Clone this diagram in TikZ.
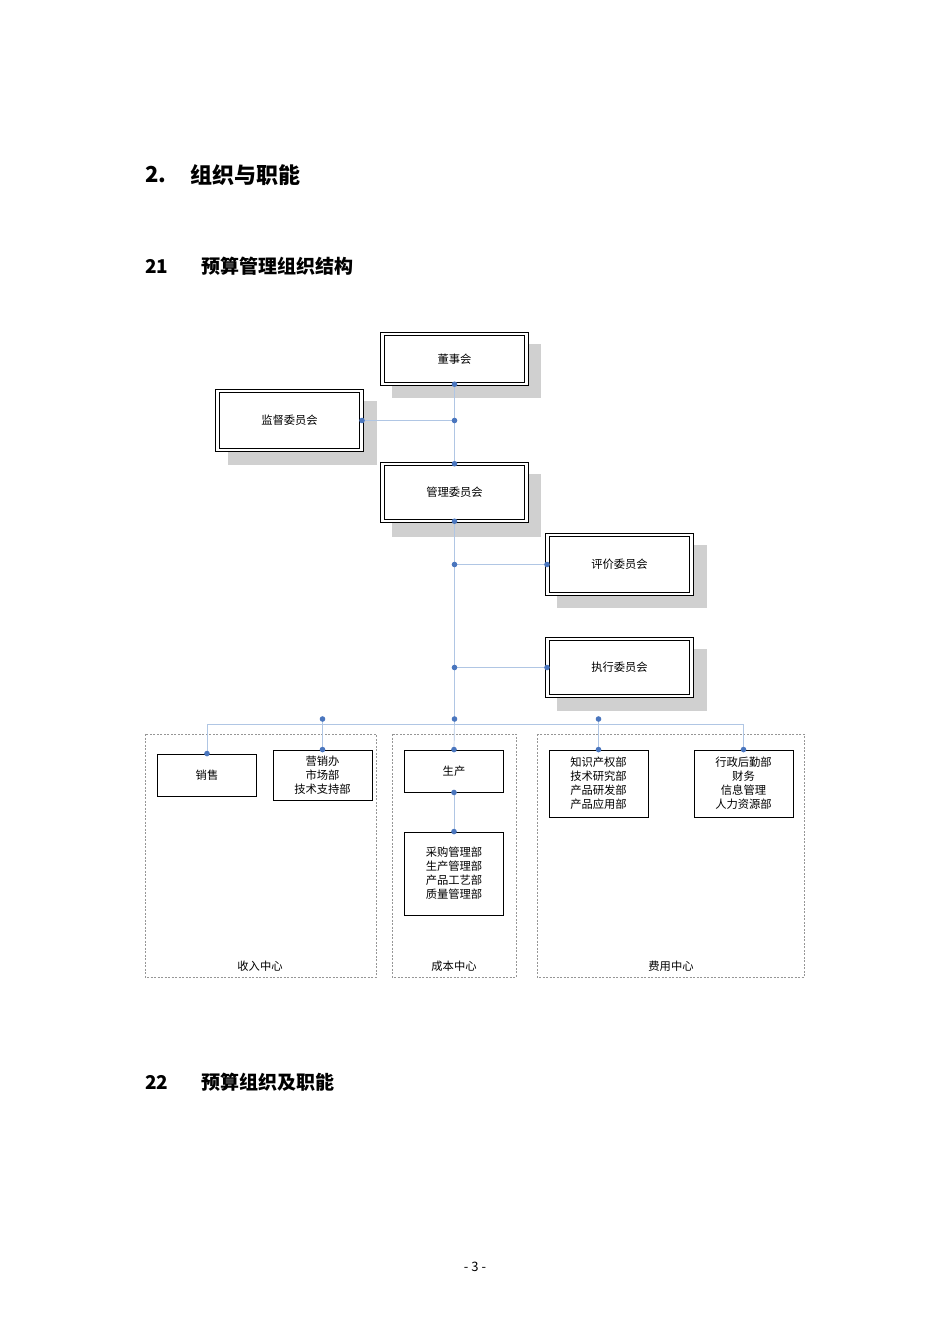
\documentclass[tikz,border=0pt]{standalone}
\usepackage{fontspec}
\setmainfont{Noto Sans CJK SC}
\definecolor{linkblue}{RGB}{176,198,228}
\definecolor{dotblue}{RGB}{74,118,190}
\definecolor{shadegray}{RGB}{208,208,208}
\definecolor{groupgray}{RGB}{150,150,150}
\tikzset{every picture/.style={line width=0.75pt}}
\tikzset{
  board/.style={draw=black, fill=white, double=white, double distance=2.2pt, line width=1pt,
    minimum width=144, inner sep=0pt, font=\fontsize{11.3}{14}\selectfont},
  dept/.style={draw=black, fill=white, line width=0.9pt, minimum width=99, inner sep=0pt,
    align=center, font=\fontsize{11.3}{14}\selectfont},
  group/.style={draw=groupgray, dash pattern=on 2pt off 1.5pt, line width=0.5pt},
  grouplabel/.style={inner sep=0pt, font=\fontsize{11.3}{14}\selectfont},
  link/.style={draw=linkblue, line width=0.7pt},
  dot/.style={fill=dotblue},
}

\begin{document}
\begin{tikzpicture}[x=1pt,y=1pt,yscale=-1,xscale=1]
\useasboundingbox[fill=white] (0,0) rectangle (950,1344);

% Headings
\node[anchor=west, inner sep=0pt, font=\fontsize{22}{24}\selectfont\bfseries] (h2num) at (145,175) {2.};
\node[anchor=west, inner sep=0pt, font=\fontsize{22}{24}\selectfont\bfseries] (h2txt) at (190,175) {组织与职能};
\node[anchor=west, inner sep=0pt, font=\fontsize{19}{22}\selectfont\bfseries] (h21num) at (145,266) {21};
\node[anchor=west, inner sep=0pt, font=\fontsize{19}{22}\selectfont\bfseries] (h21txt) at (201,266) {预算管理组织结构};
\node[anchor=west, inner sep=0pt, font=\fontsize{19}{22}\selectfont\bfseries] (h22num) at (145,1082) {22};
\node[anchor=west, inner sep=0pt, font=\fontsize{19}{22}\selectfont\bfseries] (h22txt) at (201,1082) {预算组织及职能};
\node[inner sep=0pt, font=\fontsize{13}{15}\selectfont] (pageno) at (475,1267) {- 3 -};

% Shadows
\fill[shadegray] (392,344) rectangle (541,398);
\fill[shadegray] (228,401) rectangle (377,465);
\fill[shadegray] (392,474) rectangle (541,537);
\fill[shadegray] (557,545) rectangle (707,608);
\fill[shadegray] (557,649) rectangle (707,711);

% Group frames
\draw[group] (145,734) rectangle (376,977);
\draw[group] (392,734) rectangle (516,977);
\draw[group] (537,734) rectangle (804,977);
\node[grouplabel] (srzx) at (260,966) {收入中心};
\node[grouplabel] (cbzx) at (454,966) {成本中心};
\node[grouplabel] (fyzx) at (671,966) {费用中心};

% Committees
\node[board, minimum height=49.5] (dsh) at (454.5,359) {董事会};
\node[board, minimum height=58.5] (jdwyh) at (289.5,420.5) {监督委员会};
\node[board, minimum height=56.5] (glwyh) at (454.5,492.5) {管理委员会};
\node[board, minimum height=58.5] (pjwyh) at (619.5,564.5) {评价委员会};
\node[board, minimum height=56.5] (zxwyh) at (619.5,667.5) {执行委员会};

% Departments
\node[dept, minimum height=42] (xs) at (207,775) {销售};
\node[dept, minimum height=50] (yxb) at (322.5,775) {营销办\\市场部\\技术支持部};
\node[dept, minimum height=42] (sc) at (454,771) {生产};
\node[dept, minimum height=83] (cgb) at (454,873.5) {采购管理部\\生产管理部\\产品工艺部\\质量管理部};
\node[dept, minimum height=67] (zscq) at (598.5,783.5) {知识产权部\\技术研究部\\产品研发部\\产品应用部};
\node[dept, minimum height=67] (xzhq) at (743.5,783.5) {行政后勤部\\财务\\信息管理\\人力资源部};

% Junctions
\coordinate (j1) at (dsh.south |- jdwyh.east);
\coordinate (j2) at (dsh.south |- pjwyh.west);
\coordinate (j3) at (dsh.south |- zxwyh.west);
\coordinate (j4) at (454.5,719);
\coordinate (j5) at (yxb.north |- j4);
\coordinate (j6) at (zscq.north |- j4);
\coordinate (busL) at (xs.north |- 0,724);
\coordinate (busR) at (xzhq.north |- 0,724);

% Connectors
\draw[link] (dsh.south) -- (glwyh.north);
\draw[link] (jdwyh.east) -- (j1);
\draw[link] (glwyh.south) -- (j4) -- (sc.north);
\draw[link] (j2) -- (pjwyh.west);
\draw[link] (j3) -- (zxwyh.west);
\draw[link] (busL) -- (busR);
\draw[link] (busL) -- (xs.north);
\draw[link] (j5) -- (yxb.north);
\draw[link] (j6) -- (zscq.north);
\draw[link] (busR) -- (xzhq.north);
\draw[link] (sc.south) -- (cgb.north);

% Dots
\foreach \p in {dsh.south, jdwyh.east, j1, glwyh.north, glwyh.south, j2, pjwyh.west,
  j3, zxwyh.west, j4, j5, j6, xs.north, yxb.north, sc.north, sc.south, cgb.north,
  zscq.north, xzhq.north}
  \fill[dot] (\p) circle (2.8);

\end{tikzpicture}
\end{document}
